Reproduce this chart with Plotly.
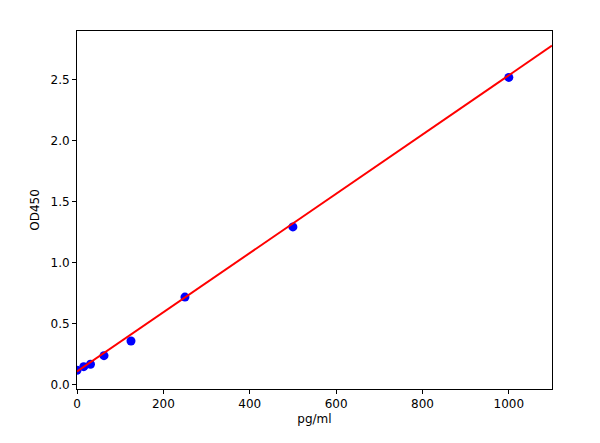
import plotly.graph_objects as go

# Standard curve points
conc = [0, 15.6, 31.25, 62.5, 125, 250, 500, 1000]
od450 = [0.12, 0.15, 0.17, 0.24, 0.36, 0.72, 1.295, 2.52]

# Linear fit line, endpoints
fit_x = [0, 1100]
fit_y = [0.11, 2.78]

FONT = "DejaVu Sans"

fig = go.Figure()

fig.add_trace(go.Scatter(
    x=conc, y=od450,
    mode="markers",
    marker=dict(color="#0000ff", size=9, line=dict(width=0)),
    showlegend=False,
))

fig.add_trace(go.Scatter(
    x=fit_x, y=fit_y,
    mode="lines",
    line=dict(color="#ff0000", width=2),
    showlegend=False,
))

axis_common = dict(
    showgrid=False,
    zeroline=False,
    showline=True,
    linecolor="black",
    linewidth=1,
    mirror=True,
    ticks="outside",
    ticklen=4,
    tickcolor="black",
    tickfont=dict(family=FONT, size=12, color="black"),
)

# page body adds ~8px offset, so margins are shifted to compensate
fig.update_layout(
    width=600, height=443,
    plot_bgcolor="white",
    paper_bgcolor="white",
    margin=dict(l=69, r=56, t=23, b=62),
    font=dict(family=FONT, size=12, color="black"),
    xaxis=dict(
        range=[0, 1100],
        tickvals=[0, 200, 400, 600, 800, 1000],
        title=dict(text="pg/ml", font=dict(family=FONT, size=12), standoff=4),
        **axis_common,
    ),
    yaxis=dict(
        range=[-0.033, 2.9],
        tickvals=[0, 0.5, 1.0, 1.5, 2.0, 2.5],
        tickformat=".1f",
        title=dict(text="OD450", font=dict(family=FONT, size=12), standoff=8),
        **axis_common,
    ),
)

fig.write_html("out.html")
